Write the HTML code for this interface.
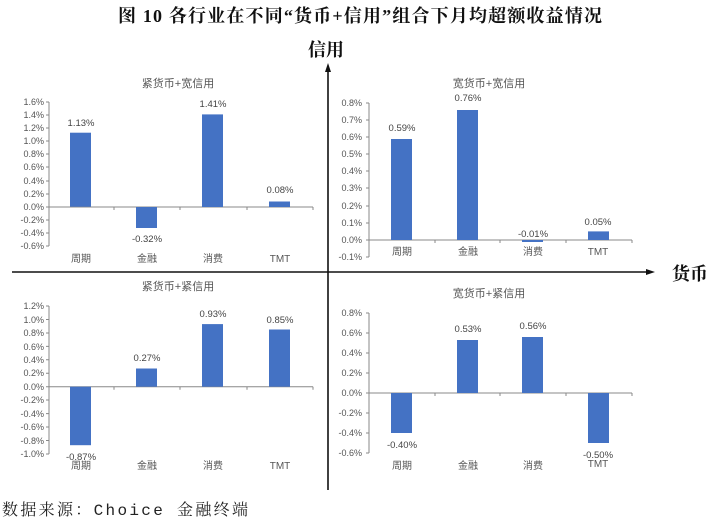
<!DOCTYPE html>
<html><head><meta charset="utf-8"><style>
body{margin:0;background:#fff;}
svg{display:block;}
.t{font-family:"Liberation Sans","Noto Sans CJK SC",sans-serif;font-size:9px;fill:#555;}
.c{font-family:"Liberation Sans","Noto Sans CJK SC",sans-serif;font-size:10px;fill:#555;text-anchor:middle;}
.pt{font-family:"Liberation Sans","Noto Sans CJK SC",sans-serif;font-size:11px;fill:#555;text-anchor:middle;}
.v{font-family:"Liberation Sans","Noto Sans CJK SC",sans-serif;font-size:9.5px;fill:#444;text-anchor:middle;}
.ax{stroke:#888;stroke-width:1;fill:none;}
.b{fill:#4472c4;}
</style></head><body>
<svg width="720" height="523" viewBox="0 0 720 523" xmlns="http://www.w3.org/2000/svg">
<text x="360" y="22" text-anchor="middle" textLength="484" style="font-family:'Liberation Serif','Noto Serif CJK SC',serif;font-size:18px;font-weight:bold;fill:#111">图 10 各行业在不同“货币+信用”组合下月均超额收益情况</text>
<text x="326" y="56" text-anchor="middle" style="font-family:'Liberation Serif','Noto Serif CJK SC',serif;font-size:18px;font-weight:bold;fill:#111">信用</text>
<text x="690" y="280" text-anchor="middle" style="font-family:'Liberation Serif','Noto Serif CJK SC',serif;font-size:18px;font-weight:bold;fill:#111">货币</text>
<line x1="328" y1="70" x2="328" y2="490" stroke="#111" stroke-width="1.6"/>
<polygon points="328,63 325,72 331,72" fill="#111"/>
<line x1="12" y1="272" x2="648" y2="272" stroke="#111" stroke-width="1.6"/>
<polygon points="655,272 646,269 646,275" fill="#111"/>

<!-- Panel 1 -->
<text class="pt" x="178" y="87">紧货币+宽信用</text>
<g class="t" text-anchor="end">
<text x="44" y="105">1.6%</text><text x="44" y="118">1.4%</text><text x="44" y="131">1.2%</text><text x="44" y="144">1.0%</text><text x="44" y="157">0.8%</text><text x="44" y="170">0.6%</text><text x="44" y="184">0.4%</text><text x="44" y="197">0.2%</text><text x="44" y="210">0.0%</text><text x="44" y="223">-0.2%</text><text x="44" y="236">-0.4%</text><text x="44" y="249">-0.6%</text>
</g>
<path class="ax" d="M49 102V246M46 102H49M46 115H49M46 128H49M46 141H49M46 154H49M46 167H49M46 181H49M46 194H49M46 207H49M46 220H49M46 233H49M46 246H49"/>
<path class="ax" d="M49 207H313M114 207v3M180 207v3M247 207v3M313 207v3"/>
<rect class="b" x="70" y="132.7" width="21" height="74"/>
<rect class="b" x="136" y="207" width="21" height="21"/>
<rect class="b" x="202" y="114.4" width="21" height="92.6"/>
<rect class="b" x="269" y="201.5" width="21" height="5.5"/>
<text class="v" x="81" y="126">1.13%</text><text class="v" x="147" y="242">-0.32%</text><text class="v" x="213" y="107">1.41%</text><text class="v" x="280" y="193">0.08%</text>
<text class="c" x="81" y="262">周期</text><text class="c" x="147" y="262">金融</text><text class="c" x="213" y="262">消费</text><text class="c" x="280" y="262">TMT</text>

<!-- Panel 2 -->
<text class="pt" x="489" y="87">宽货币+宽信用</text>
<g class="t" text-anchor="end">
<text x="362" y="106">0.8%</text><text x="362" y="123">0.7%</text><text x="362" y="140">0.6%</text><text x="362" y="157">0.5%</text><text x="362" y="174">0.4%</text><text x="362" y="191">0.3%</text><text x="362" y="209">0.2%</text><text x="362" y="226">0.1%</text><text x="362" y="243">0.0%</text><text x="362" y="260">-0.1%</text>
</g>
<path class="ax" d="M369 103V257M366 103H369M366 120H369M366 137H369M366 154H369M366 171H369M366 188H369M366 206H369M366 223H369M366 240H369M366 257H369"/>
<path class="ax" d="M369 240H632M435 240v3M500 240v3M566 240v3M632 240v3"/>
<rect class="b" x="391" y="139" width="21" height="101"/>
<rect class="b" x="457" y="110" width="21" height="130"/>
<rect class="b" x="522" y="240" width="21" height="2"/>
<rect class="b" x="588" y="231.4" width="21" height="8.6"/>
<text class="v" x="402" y="131">0.59%</text><text class="v" x="468" y="101">0.76%</text><text class="v" x="533" y="237">-0.01%</text><text class="v" x="598" y="225">0.05%</text>
<text class="c" x="402" y="255">周期</text><text class="c" x="468" y="255">金融</text><text class="c" x="533" y="255">消费</text><text class="c" x="598" y="255">TMT</text>

<!-- Panel 3 -->
<text class="pt" x="178" y="290">紧货币+紧信用</text>
<g class="t" text-anchor="end">
<text x="44" y="309">1.2%</text><text x="44" y="323">1.0%</text><text x="44" y="336">0.8%</text><text x="44" y="350">0.6%</text><text x="44" y="363">0.4%</text><text x="44" y="376">0.2%</text><text x="44" y="390">0.0%</text><text x="44" y="403">-0.2%</text><text x="44" y="417">-0.4%</text><text x="44" y="430">-0.6%</text><text x="44" y="444">-0.8%</text><text x="44" y="457">-1.0%</text>
</g>
<path class="ax" d="M49 306V454M46 306H49M46 319.5H49M46 333H49M46 346.4H49M46 359.8H49M46 373.3H49M46 386.7H49M46 400H49M46 413.6H49M46 427H49M46 440.5H49M46 454H49"/>
<path class="ax" d="M49 386.7H313M114 386.7v3M180 386.7v3M247 386.7v3M313 386.7v3"/>
<rect class="b" x="70" y="386.7" width="21" height="58.5"/>
<rect class="b" x="136" y="368.5" width="21" height="18.2"/>
<rect class="b" x="202" y="324.1" width="21" height="62.6"/>
<rect class="b" x="269" y="329.5" width="21" height="57.2"/>
<text class="v" x="81" y="460">-0.87%</text><text class="v" x="147" y="361">0.27%</text><text class="v" x="213" y="317">0.93%</text><text class="v" x="280" y="323">0.85%</text>
<text class="c" x="81" y="469">周期</text><text class="c" x="147" y="469">金融</text><text class="c" x="213" y="469">消费</text><text class="c" x="280" y="469">TMT</text>

<!-- Panel 4 -->
<text class="pt" x="489" y="297">宽货币+紧信用</text>
<g class="t" text-anchor="end">
<text x="362" y="316">0.8%</text><text x="362" y="336">0.6%</text><text x="362" y="356">0.4%</text><text x="362" y="376">0.2%</text><text x="362" y="396">0.0%</text><text x="362" y="416">-0.2%</text><text x="362" y="436">-0.4%</text><text x="362" y="456">-0.6%</text>
</g>
<path class="ax" d="M369 313V453M366 313H369M366 333H369M366 353H369M366 373H369M366 393H369M366 413H369M366 433H369M366 453H369"/>
<path class="ax" d="M369 393H632M435 393v3M500 393v3M566 393v3M632 393v3"/>
<rect class="b" x="391" y="393" width="21" height="40"/>
<rect class="b" x="457" y="340" width="21" height="53"/>
<rect class="b" x="522" y="337" width="21" height="56"/>
<rect class="b" x="588" y="393" width="21" height="50"/>
<text class="v" x="402" y="448">-0.40%</text><text class="v" x="468" y="332">0.53%</text><text class="v" x="533" y="329">0.56%</text><text class="v" x="598" y="458">-0.50%</text>
<text class="c" x="402" y="469">周期</text><text class="c" x="468" y="469">金融</text><text class="c" x="533" y="469">消费</text><text class="c" x="598" y="467">TMT</text>

<text x="2" y="515" textLength="246" style="font-family:'Liberation Mono','Noto Serif CJK SC',monospace;font-size:16px;fill:#222">数据来源：Choice 金融终端</text>
</svg>
</body></html>
